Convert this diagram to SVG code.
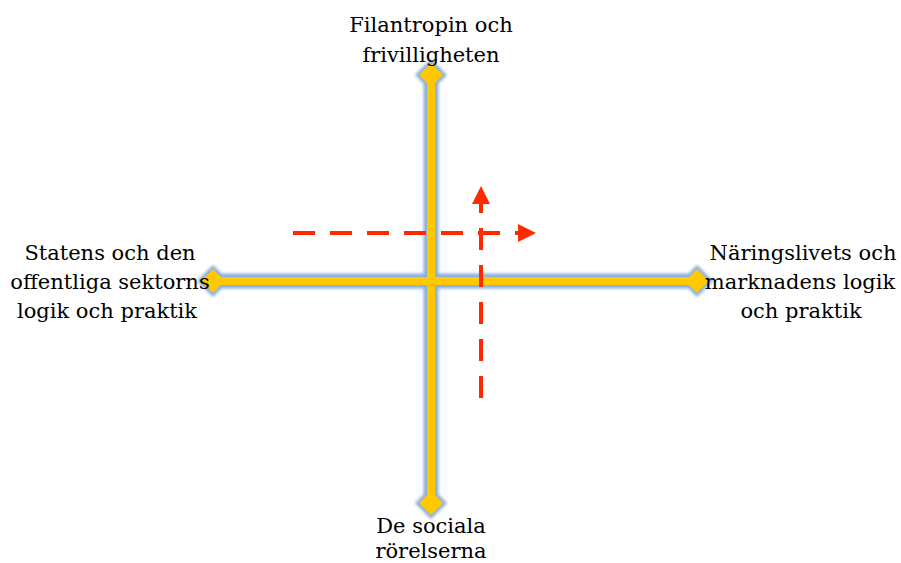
<svg xmlns="http://www.w3.org/2000/svg" width="901" height="563" viewBox="0 0 901 563">
<style>
.t{font-family:"DejaVu Serif","Liberation Serif",serif;font-size:21px;fill:#000;text-anchor:middle}
.glow{fill:none;stroke:#8aaedc;stroke-width:15}
.gd{fill:#8aaedc}
.ax{stroke:#FFC800;stroke-width:8;fill:none}
.d{fill:#FFC800}
.red{stroke:#FF2A00;stroke-width:4;fill:none;stroke-dasharray:22 15}
</style>
<defs>
<filter id="b" x="-10%" y="-10%" width="120%" height="120%"><feGaussianBlur stdDeviation="1.6"/></filter>
<marker id="ah" viewBox="0 0 10 10" refX="0" refY="5" markerWidth="4.5" markerHeight="4.5" orient="auto"><path d="M0,0 L10,5 L0,10 Z" fill="#FF2A00"/></marker>
</defs>
<g id="connectors">
<g id="axes-glow" filter="url(#b)">
<line class="glow" x1="431" y1="80" x2="431" y2="498"/>
<line class="glow" x1="220" y1="281" x2="690" y2="281"/>
<polygon class="gd" points="431,59 447,75 431,91 415,75"/>
<polygon class="gd" points="431,487 447,503 431,519 415,503"/>
<polygon class="gd" points="213,265 229,281 213,297 197,281"/>
<polygon class="gd" points="697,265 713,281 697,297 681,281"/>
</g>
<line class="ax" x1="431" y1="75" x2="431" y2="503"/>
<line class="ax" x1="213" y1="281" x2="697" y2="281"/>
<polygon class="d" points="431,63 443,75 431,87 419,75"/>
<polygon class="d" points="431,491 443,503 431,515 419,503"/>
<polygon class="d" points="213,269 225,281 213,293 201,281"/>
<polygon class="d" points="697,269 709,281 697,293 685,281"/>
<line class="red" x1="293" y1="233" x2="518" y2="233" marker-end="url(#ah)"/>
<line class="red" x1="481" y1="398" x2="481" y2="204" marker-end="url(#ah)"/>
</g>
<g id="top"><text class="t" x="431" y="32">Filantropin och</text><text class="t" x="431" y="62">frivilligheten</text></g>
<g id="left"><text class="t" x="110" y="260">Statens och den</text><text class="t" x="110" y="289">offentliga sektorns</text><text class="t" x="107" y="318">logik och praktik</text></g>
<g id="right"><text class="t" x="803" y="260">Näringslivets och</text><text class="t" x="800" y="289">marknadens logik</text><text class="t" x="801" y="318">och praktik</text></g>
<g id="bottom"><text class="t" x="431" y="533">De sociala</text><text class="t" x="431" y="558">rörelserna</text></g>
</svg>
